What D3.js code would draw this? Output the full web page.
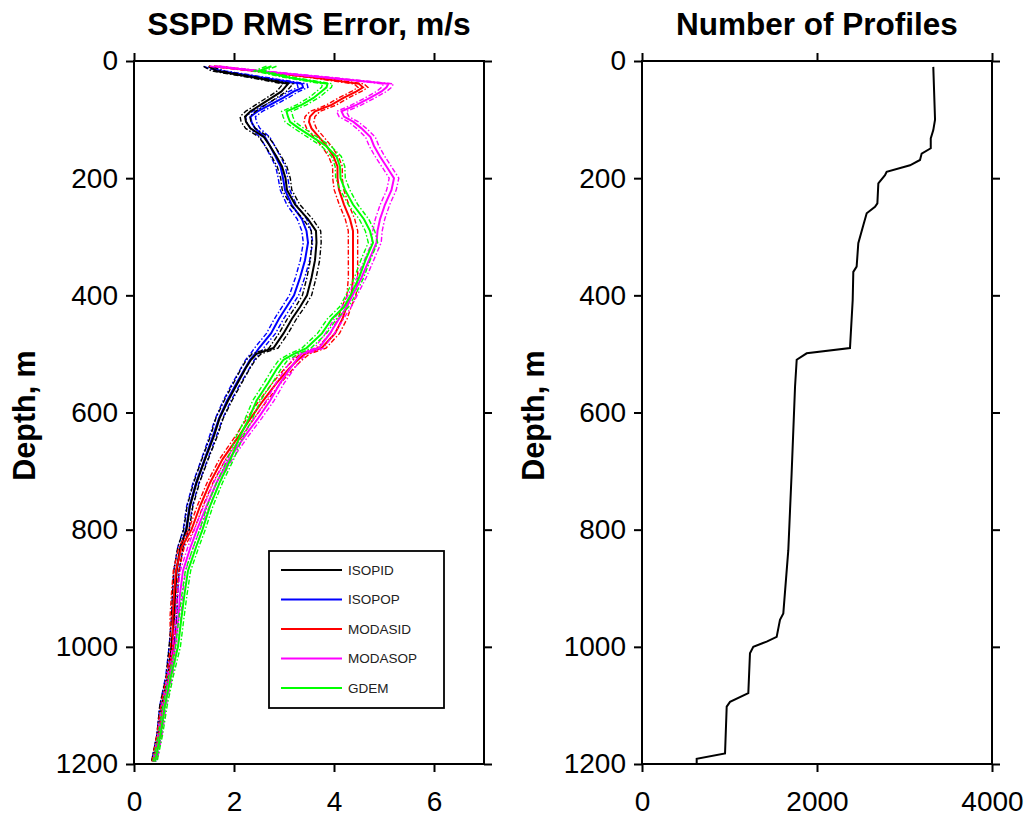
<!DOCTYPE html>
<html><head><meta charset="utf-8">
<script src="https://cdn.jsdelivr.net/npm/d3@7"></script>
<style>body{margin:0;background:#fff} text{font-family:"Liberation Sans",Arial,Helvetica,sans-serif}</style>
</head><body><svg id="c" width="1029" height="821"></svg>
<script>
// ---- data ----
const depths = [9,17,28,39,45,52,63,75,86,95,104,115,130,145,163,180,200,220,245,270,290,310,340,370,400,420,440,465,490,500,510,525,550,580,610,640,680,720,760,800,830,870,910,950,1000,1050,1100,1150,1196];
const isopid  = [1.49,1.65,2.40,3.08,3.02,2.95,2.75,2.53,2.33,2.22,2.24,2.33,2.60,2.72,2.85,2.96,3.03,3.06,3.22,3.48,3.64,3.65,3.62,3.55,3.46,3.32,3.16,2.99,2.79,2.45,2.34,2.23,2.07,1.88,1.71,1.60,1.42,1.25,1.12,1.05,0.93,0.85,0.82,0.80,0.75,0.69,0.56,0.50,0.39];
const isopop  = [1.50,1.72,2.55,3.36,3.38,3.20,2.98,2.72,2.47,2.33,2.35,2.42,2.62,2.72,2.83,2.93,2.98,3.02,3.15,3.36,3.45,3.48,3.42,3.32,3.20,3.05,2.90,2.74,2.50,2.42,2.32,2.22,2.05,1.86,1.70,1.58,1.41,1.24,1.11,1.04,0.93,0.85,0.82,0.80,0.75,0.68,0.56,0.50,0.39];
const modasid = [1.60,2.45,3.60,4.50,4.58,4.45,4.19,3.95,3.62,3.52,3.50,3.55,3.70,3.85,3.99,4.07,4.07,4.10,4.20,4.32,4.38,4.38,4.38,4.38,4.35,4.25,4.17,4.02,3.75,3.42,3.28,3.10,2.85,2.58,2.33,2.10,1.77,1.52,1.32,1.15,0.95,0.84,0.80,0.77,0.78,0.70,0.58,0.50,0.40];
const modasop = [1.62,2.50,3.85,5.09,5.05,4.95,4.72,4.45,4.15,4.20,4.39,4.55,4.73,4.80,4.92,5.05,5.20,5.15,5.02,4.92,4.87,4.85,4.70,4.55,4.37,4.25,4.10,3.92,3.70,3.35,3.25,3.12,2.92,2.72,2.48,2.22,1.90,1.65,1.45,1.26,1.13,0.98,0.92,0.89,0.82,0.72,0.60,0.52,0.42];
const gdem    = [2.75,2.50,3.10,3.87,3.85,3.75,3.59,3.35,3.05,3.08,3.12,3.30,3.57,3.84,4.05,4.12,4.13,4.22,4.38,4.60,4.72,4.78,4.63,4.50,4.33,4.20,3.96,3.76,3.45,3.20,2.99,2.86,2.68,2.45,2.30,2.12,1.93,1.71,1.52,1.37,1.24,1.08,1.01,0.95,0.88,0.74,0.62,0.53,0.42];
const seriesNames  = ["ISOPID","ISOPOP","MODASID","MODASOP","GDEM"];
const seriesValues = [isopid, isopop, modasid, modasop, gdem];
const seriesColors = ["#000000","#0000ff","#ff0000","#ff00ff","#00ff00"];
const drawOrder = [1,0,2,3,4];
// confidence band half-width (m/s) vs depth
const ciDepths    = [0,500,700,1200];
const ciHalfWidth = [0.10,0.09,0.06,0.04];

const profDepths = [10,100,118,132,149,158,169,178,189,195,209,243,249,260,280,311,351,360,408,490,499,510,556,704,835,943,954,983,991,1000,1011,1079,1094,1102,1182,1191,1199];
const profCounts = [3329,3349,3329,3300,3300,3196,3177,3063,2796,2777,2701,2690,2663,2568,2530,2472,2453,2415,2408,2377,1882,1768,1749,1710,1672,1615,1577,1539,1425,1272,1234,1215,1006,968,949,625,625];

const errTicks = [0,2,4,6];
const depthTicks = [0,200,400,600,800,1000,1200];
const countTicks = [0,2000,4000];

// ---- layout ----
const svg = d3.select("#c");
svg.append("rect").attr("width",1029).attr("height",821).attr("fill","#fff");
const yTop = 61, yBot = 764;
const P1 = {x0:134, x1:484}, P2 = {x0:642, x1:992};
const y = d3.scaleLinear().domain([0,1200]).range([yTop,yBot]);
const xE = d3.scaleLinear().domain([0,7]).range([P1.x0,P1.x1]);
const xN = d3.scaleLinear().domain([0,4000]).range([P2.x0,P2.x1]);
const ciScale = d3.scaleLinear().domain(ciDepths).range(ciHalfWidth);
const fmtInt = d3.format("d");

function frame(x, xt) {
  const g = svg.append("g");
  const styleAxis = a => {
    a.select(".domain").remove();
    a.selectAll(".tick line").attr("stroke","#000").attr("stroke-width",2);
    a.selectAll(".tick text").attr("font-size",28).attr("fill","#000");
  };
  g.append("g").attr("transform",`translate(${x.range()[0]},0)`)
    .call(d3.axisLeft(y).tickValues(depthTicks).tickSize(8).tickPadding(8).tickFormat(fmtInt).tickSizeOuter(0)).call(styleAxis);
  g.append("g").attr("transform",`translate(${x.range()[1]},0)`)
    .call(d3.axisRight(y).tickValues(depthTicks).tickSize(8).tickFormat("").tickSizeOuter(0)).call(styleAxis);
  g.append("g").attr("transform",`translate(0,${yTop})`)
    .call(d3.axisTop(x).tickValues(xt).tickSize(8).tickFormat("").tickSizeOuter(0)).call(styleAxis);
  g.append("g").attr("transform",`translate(0,${yBot})`)
    .call(d3.axisBottom(x).tickValues(xt).tickSize(8).tickPadding(19).tickFormat(fmtInt).tickSizeOuter(0)).call(styleAxis);
  g.append("rect").attr("x",x.range()[0]).attr("y",yTop)
    .attr("width",x.range()[1]-x.range()[0]).attr("height",yBot-yTop)
    .attr("fill","none").attr("stroke","#000").attr("stroke-width",2);
  g.selectAll(".tick text").attr("font-family",'"Liberation Sans",Arial,Helvetica,sans-serif');
}

// ---- left panel curves ----
const curves = svg.append("g");
drawOrder.forEach(i => {
  const vals = seriesValues[i];
  const pts = depths.map((d,k)=>({d, v: vals[k]}));
  const mk = off => d3.line().x(p => xE(p.v + off*ciScale(p.d))).y(p => y(p.d));
  [-1,1].forEach(s => {
    curves.append("path").attr("d", mk(s)(pts)).attr("fill","none")
      .attr("stroke", seriesColors[i]).attr("stroke-width",1.4)
      .attr("stroke-dasharray","5,2,1.5,2");
  });
  curves.append("path").attr("d", mk(0)(pts)).attr("fill","none")
    .attr("stroke", seriesColors[i]).attr("stroke-width",2);
});

// ---- right panel curve ----
const prof = profDepths.map((d,k)=>({d, n: profCounts[k]}));
svg.append("path").attr("d", d3.line().x(p=>xN(p.n)).y(p=>y(p.d))(prof))
  .attr("fill","none").attr("stroke","#000").attr("stroke-width",2);

frame(xE, errTicks);
frame(xN, countTicks);

// ---- titles ----
svg.append("text").attr("x",(P1.x0+P1.x1)/2).attr("y",35).attr("text-anchor","middle")
  .attr("font-size",31.8).attr("font-weight","bold").text("SSPD RMS Error, m/s");
svg.append("text").attr("x",(P2.x0+P2.x1)/2).attr("y",35).attr("text-anchor","middle")
  .attr("font-size",31.5).attr("font-weight","bold").text("Number of Profiles");
[35, 544].forEach(xx => {
  svg.append("text").attr("transform",`translate(${xx},${(yTop+yBot)/2 + 3}) rotate(-90)`)
    .attr("text-anchor","middle").attr("font-size",30.5).attr("font-weight","bold").text("Depth, m");
});

// ---- legend ----
const lg = svg.append("g");
lg.append("rect").attr("x",269).attr("y",551).attr("width",175).attr("height",157)
  .attr("fill","#fff").attr("stroke","#000").attr("stroke-width",1.8);
seriesNames.forEach((name,i) => {
  const yy = 570 + i*29.5;
  lg.append("line").attr("x1",281).attr("x2",342).attr("y1",yy).attr("y2",yy)
    .attr("stroke",seriesColors[i]).attr("stroke-width",1.8);
  lg.append("text").attr("x",348).attr("y",yy).attr("dy","0.36em")
    .attr("font-size",13.5).attr("fill","#222").text(name);
});
</script></body></html>
